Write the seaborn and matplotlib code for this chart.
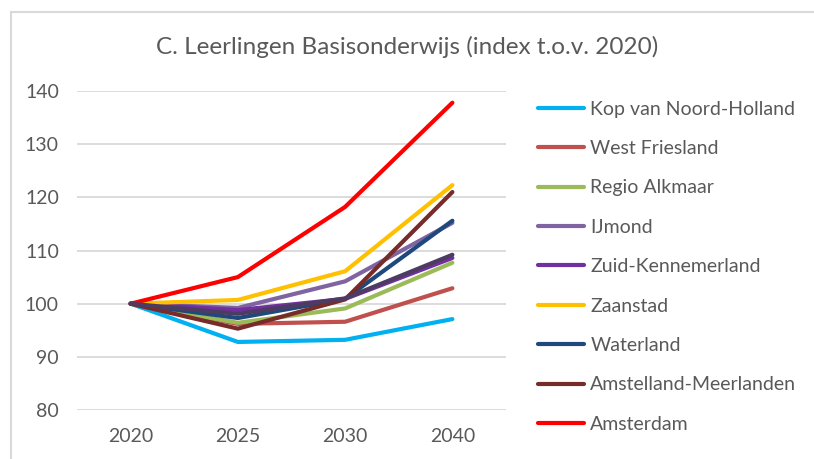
import matplotlib.pyplot as plt
import pandas as pd
import seaborn as sns
from matplotlib.patches import Rectangle

years = ['2020', '2025', '2030', '2040']

regions = ['Kop van Noord-Holland', 'West Friesland', 'Regio Alkmaar', 'IJmond',
           'Zuid-Kennemerland', 'Zaanstad', 'Waterland', 'Amstelland-Meerlanden',
           'Amsterdam', 'Noord-Holland']

kop = [100, 92.8, 93.2, 97.1]
west_friesland = [100, 96.2, 96.6, 102.9]
alkmaar = [100, 96.4, 99.1, 107.7]
ijmond = [100, 99.2, 104.2, 115.2]
zuid_kennemerland = [100, 98.8, 100.9, 108.6]
zaanstad = [100, 100.7, 106.1, 122.3]
waterland = [100, 97.3, 100.9, 115.6]
amstelland = [100, 95.3, 100.8, 121.0]
amsterdam = [100, 105.0, 118.2, 137.8]
noord_holland = [100, 98.1, 101.0, 109.2]  # line without legend entry

colors = ['#00B0F0', '#C0504D', '#9BBB59', '#8064A2', '#7030A0',
          '#FFC000', '#1F497D', '#772C2A', '#FF0000', '#4E3B62']

series = [kop, west_friesland, alkmaar, ijmond, zuid_kennemerland,
          zaanstad, waterland, amstelland, amsterdam, noord_holland]

rows = []
for name, vals in zip(regions, series):
    for y, v in zip(years, vals):
        rows.append({'jaar': y, 'index': v, 'regio': name})
df = pd.DataFrame(rows)

sns.set_style('white')
plt.rcParams['font.family'] = ['Lato', 'DejaVu Sans']
grey = '#595959'

fig = plt.figure(figsize=(8.14, 4.59), dpi=100)
ax = fig.add_axes([77 / 814, 49 / 459, 429 / 814, 319 / 459])

sns.lineplot(data=df, x='jaar', y='index', hue='regio', hue_order=regions,
             palette=dict(zip(regions, colors)), linewidth=3, sort=False,
             legend=False, ax=ax)
for ln in ax.get_lines():
    ln.set_solid_capstyle('round')
    ln.set_solid_joinstyle('round')

ax.set_xlim(-0.5, 3.5)
ax.set_ylim(80, 140)
ax.set_yticks(range(80, 141, 10))
ax.yaxis.grid(True, color='#D9D9D9', linewidth=1.3)
ax.set_axisbelow(True)
for s in ax.spines.values():
    s.set_visible(False)
ax.tick_params(length=0, labelsize=14, labelcolor=grey)
ax.tick_params(axis='y', pad=13)
ax.tick_params(axis='x', pad=13)
ax.set_xlabel('')
ax.set_ylabel('')

fig.text(0.5, 1 - 47 / 459, 'C. Leerlingen Basisonderwijs (index t.o.v. 2020)',
         ha='center', va='center', fontsize=17.5, color=grey)

handles = ax.get_lines()[:9]
leg = fig.legend(handles, regions[:9], loc='upper left',
                 bbox_to_anchor=(530 / 814, 1 - 93 / 459), frameon=False,
                 fontsize=14, labelcolor=grey, handlelength=2.4,
                 handletextpad=0.3, labelspacing=1.15, borderaxespad=0)

fig.patches.append(Rectangle((11 / 814, -0.1), 1.2, 1 - 12 / 459 + 0.1,
                             transform=fig.transFigure, fill=False,
                             edgecolor='#D9D9D9', linewidth=1.5))

fig.savefig('out.png', dpi=100)
